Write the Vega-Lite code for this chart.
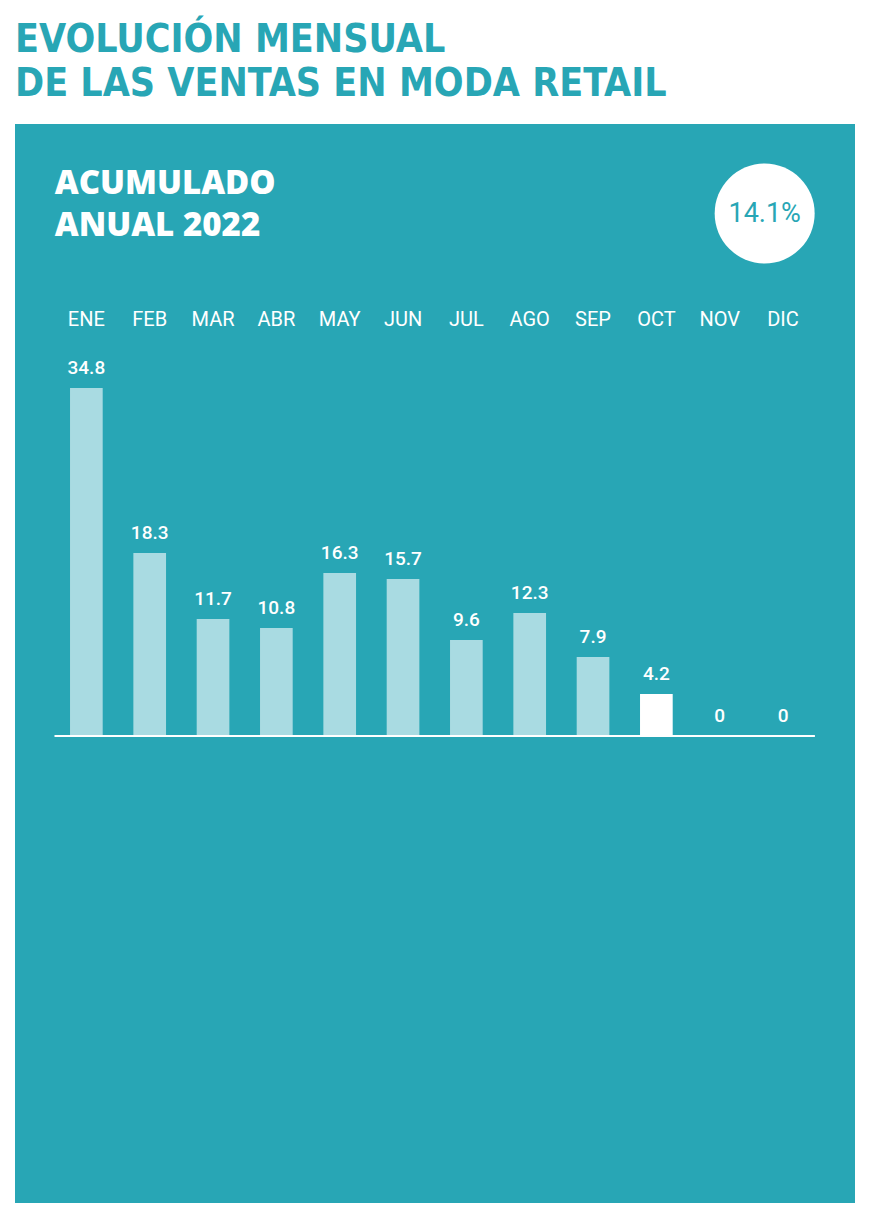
{
  "$schema": "https://vega.github.io/schema/vega-lite/v6.json",
  "width": 840,
  "height": 1079,
  "autosize": {"type": "none"},
  "padding": {"left": 15, "top": 124, "right": 21, "bottom": 17},
  "background": "white",
  "config": {"view": {"fill": "#28a6b5", "stroke": null}},
  "title": {
    "text": ["EVOLUCIÓN MENSUAL", "DE LAS VENTAS EN MODA RETAIL"],
    "font": "DejaVu Sans Condensed",
    "fontWeight": "bold",
    "fontSize": 39,
    "lineHeight": 44,
    "color": "#28a6b5",
    "anchor": "start",
    "frame": "group",
    "baseline": "bottom",
    "offset": -19
  },
  "datasets": {
    "months": [
      {"mes": "ENE", "valor": 34.8, "actual": false},
      {"mes": "FEB", "valor": 18.3, "actual": false},
      {"mes": "MAR", "valor": 11.7, "actual": false},
      {"mes": "ABR", "valor": 10.8, "actual": false},
      {"mes": "MAY", "valor": 16.3, "actual": false},
      {"mes": "JUN", "valor": 15.7, "actual": false},
      {"mes": "JUL", "valor": 9.6, "actual": false},
      {"mes": "AGO", "valor": 12.3, "actual": false},
      {"mes": "SEP", "valor": 7.9, "actual": false},
      {"mes": "OCT", "valor": 4.2, "actual": true},
      {"mes": "NOV", "valor": 0, "actual": false},
      {"mes": "DIC", "valor": 0, "actual": false}
    ],
    "header": [
      {"texto": "ACUMULADO", "hx": 0, "hy": 54.2},
      {"texto": "ANUAL 2022", "hx": 0, "hy": 50.0}
    ],
    "badge": [
      {"texto": "14.1%", "hx": 11.21, "hy": 52.25}
    ]
  },
  "resolve": {"scale": {"x": "independent"}},
  "layer": [
    {
      "data": {"name": "months"},
      "layer": [
        {
          "mark": {"type": "bar"},
          "encoding": {
            "x": {"field": "mes", "type": "nominal", "sort": null,
                  "scale": {"range": [39.7, 799.7], "paddingInner": 0.484, "paddingOuter": 0.242}, "axis": null},
            "y": {"field": "valor", "type": "quantitative",
                  "scale": {"domain": [0, 61.2], "range": [612, 0], "nice": false, "zero": false}, "axis": null},
            "color": {"field": "actual", "type": "nominal",
                      "scale": {"domain": [false, true], "range": ["#a9dbe2", "#ffffff"]}, "legend": null}
          }
        },
        {
          "mark": {"type": "text", "font": "Roboto", "fontSize": 19, "fontWeight": 500, "color": "white", "baseline": "alphabetic", "dy": -14},
          "encoding": {
            "x": {"field": "mes", "type": "nominal", "sort": null,
                  "scale": {"range": [39.7, 799.7], "paddingInner": 0.484, "paddingOuter": 0.242}, "axis": null},
            "y": {"field": "valor", "type": "quantitative", "axis": null},
            "text": {"field": "valor", "type": "quantitative", "format": "~r"}
          }
        },
        {
          "mark": {"type": "text", "font": "Roboto", "fontSize": 20, "fontWeight": "normal", "color": "white", "baseline": "alphabetic"},
          "encoding": {
            "x": {"field": "mes", "type": "nominal", "sort": null,
                  "scale": {"range": [39.7, 799.7], "paddingInner": 0.484, "paddingOuter": 0.242}, "axis": null},
            "y": {"datum": 41.0, "type": "quantitative", "axis": null},
            "text": {"field": "mes"}
          }
        }
      ]
    },
    {
      "data": {"name": "header"},
      "layer": [
        {
          "mark": {"type": "text", "font": "Open Sans", "fontSize": 33, "fontWeight": 800, "color": "white", "align": "left", "baseline": "alphabetic"},
          "encoding": {
            "x": {"field": "hx", "type": "quantitative", "scale": {"domain": [0, 12], "range": [39.7, 799.7]}, "axis": null},
            "y": {"field": "hy", "type": "quantitative", "axis": null},
            "text": {"field": "texto"}
          }
        },
        {
          "mark": {"type": "rule", "color": "white", "strokeWidth": 2},
          "encoding": {
            "x": {"datum": 0, "type": "quantitative", "scale": {"domain": [0, 12], "range": [39.7, 799.7]}, "axis": null},
            "x2": {"datum": 12},
            "y": {"datum": 0, "type": "quantitative", "axis": null}
          }
        }
      ]
    },
    {
      "data": {"name": "badge"},
      "layer": [
        {
          "mark": {"type": "point", "shape": "circle", "filled": true, "size": 10000, "color": "white", "opacity": 1},
          "encoding": {
            "x": {"field": "hx", "type": "quantitative", "scale": {"domain": [0, 12], "range": [39.7, 799.7]}, "axis": null},
            "y": {"field": "hy", "type": "quantitative", "axis": null}
          }
        },
        {
          "mark": {"type": "text", "font": "Roboto", "fontSize": 27, "fontWeight": "normal", "color": "#28a6b5", "baseline": "middle"},
          "encoding": {
            "x": {"field": "hx", "type": "quantitative", "scale": {"domain": [0, 12], "range": [39.7, 799.7]}, "axis": null},
            "y": {"field": "hy", "type": "quantitative", "axis": null},
            "text": {"field": "texto"}
          }
        }
      ]
    }
  ]
}
